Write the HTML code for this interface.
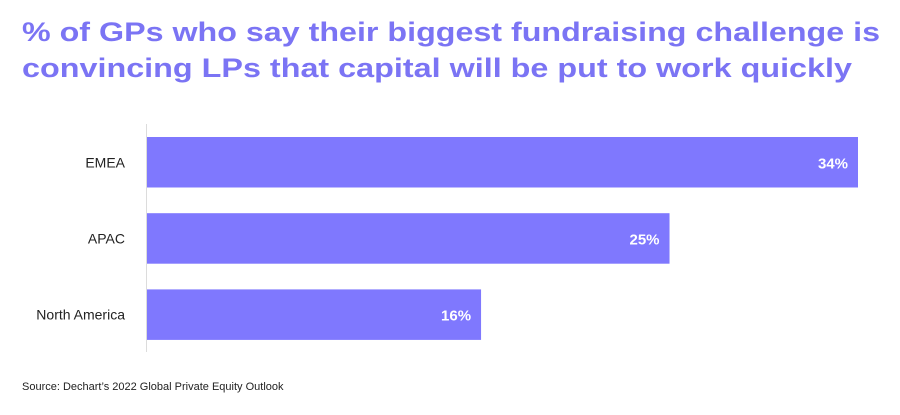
<!DOCTYPE html>
<html><head><meta charset="utf-8"><style>
body{margin:0;background:#fff;}
svg{display:block;font-family:"Liberation Sans",sans-serif;}
</style></head><body>
<svg id="chart" width="900" height="415">
<text x="22" y="41" font-size="27" font-weight="bold" fill="#7b74f4" textLength="858" lengthAdjust="spacingAndGlyphs">% of GPs who say their biggest fundraising challenge is</text>
<text x="22" y="77" font-size="27" font-weight="bold" fill="#7b74f4" textLength="830" lengthAdjust="spacingAndGlyphs">convincing LPs that capital will be put to work quickly</text>
<line x1="146.5" y1="124" x2="146.5" y2="352" stroke="#dcdcdc" stroke-width="1"/>
<g id="bars"></g>
<text x="22" y="390" font-size="11" fill="#222">Source: Dechart’s 2022 Global Private Equity Outlook</text>
</svg>
<script>
const categories = ["EMEA", "APAC", "North America"];
const values = [34, 25, 16];
const valueLabels = ["34%", "25%", "16%"];
const x0 = 146, pxPerUnit = 712 / 34;
function xScale(v){ return x0 + v * pxPerUnit; }
function yBand(i){ return 137 + i * 76.2; }
const bandH = 50.5;
const g = document.getElementById('bars');
const ns = 'http://www.w3.org/2000/svg';
categories.forEach((c, i) => {
  const y = yBand(i);
  const r = document.createElementNS(ns, 'rect');
  
  
  r.setAttribute('x', x0 + 1);
  r.setAttribute('y', y);
  r.setAttribute('width', xScale(values[i]) - x0 - 1);
  r.setAttribute('height', bandH);
  r.setAttribute('fill', '#7f78fe');
  g.appendChild(r);
  const lab = document.createElementNS(ns, 'text');
  
  
  lab.setAttribute('x', 125);
  lab.setAttribute('y', y + bandH / 2 + 5);
  lab.setAttribute('text-anchor', 'end');
  lab.setAttribute('font-size', '14');
  lab.setAttribute('fill', '#222');
  lab.textContent = c;
  g.appendChild(lab);
  const vl = document.createElementNS(ns, 'text');
  
  
  vl.setAttribute('x', xScale(values[i]) - 10);
  vl.setAttribute('y', y + bandH / 2 + 6);
  vl.setAttribute('text-anchor', 'end');
  vl.setAttribute('font-size', '15');
  vl.setAttribute('font-weight', 'bold');
  vl.setAttribute('fill', '#fff');
  vl.textContent = valueLabels[i];
  g.appendChild(vl);
});
</script>
</body></html>
